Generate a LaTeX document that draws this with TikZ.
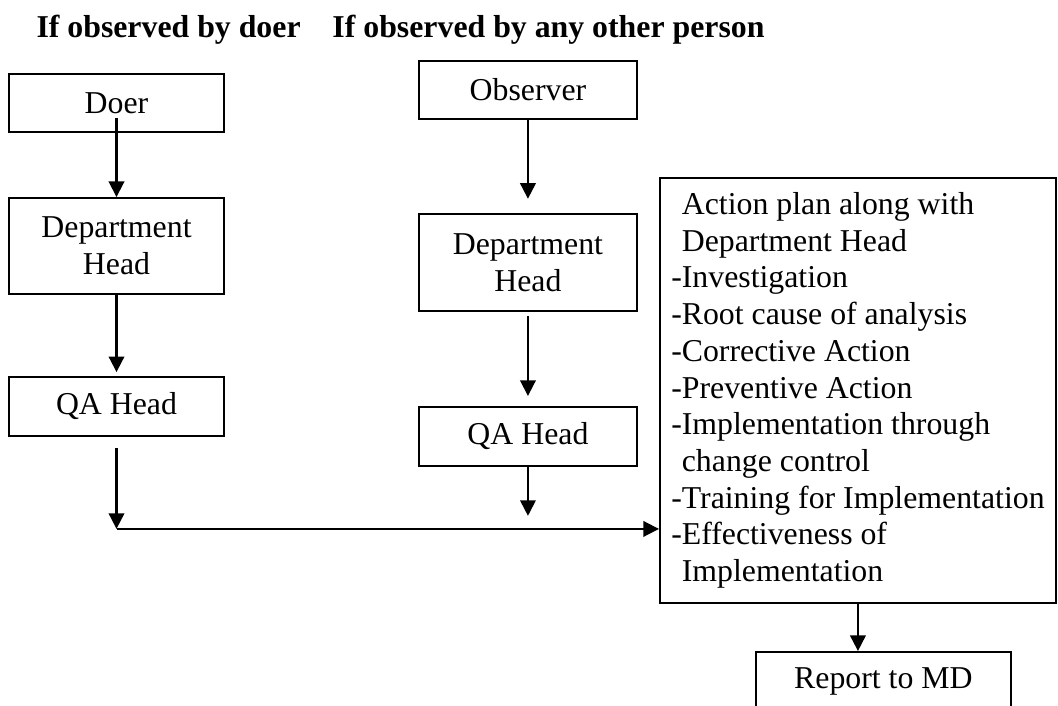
\documentclass[tikz,border=0pt]{standalone}
\usepackage{fontspec}
\setmainfont{Liberation Serif}
\usepackage{tikz}
\usetikzlibrary{arrows.meta, positioning, calc}
\tikzset{
  flowbox/.style={rectangle, draw=black, line width=0.75pt, align=center,
    inner sep=2pt, font=\fontsize{12}{13.85}\selectfont},
  leftbox/.style={flowbox, minimum width=2.85cm},
  midbox/.style={flowbox, minimum width=2.89cm},
  heading/.style={anchor=base west, inner sep=0pt,
    font=\fontsize{12}{13.85}\selectfont\bfseries},
  arrow/.style={-{Triangle[width=5.8pt,length=5.9pt]}, line width=0.95pt}
}

\begin{document}
\begin{tikzpicture}
  \clip (0,0) rectangle (14.03,9.362);

  % Headings
  \node[heading] (hdoer) at (0.477,8.858) {If observed by doer};
  \node[heading] (hother) at (4.402,8.858) {If observed by any other person};

  % Observed by doer
  \node[leftbox, minimum height=0.77cm] (doer) at (1.545,7.996) {Doer};
  \node[leftbox, minimum height=1.27cm] (depdoer) at (1.545,6.100) {Department\\Head};
  \node[leftbox, minimum height=0.78cm] (qadoer) at (1.545,3.971) {QA Head};

  % Observed by any other person
  \node[midbox, minimum height=0.77cm] (observer) at (7.001,8.168) {Observer};
  \node[midbox, minimum height=1.29cm] (depobs) at (7.001,5.881) {Department\\Head};
  \node[midbox, minimum height=0.78cm] (qaobs) at (7.001,3.574) {QA Head};

  % Action plan and report
  \node[flowbox, align=left, minimum width=5.25cm, minimum height=5.64cm] (plan) at (11.377,4.184)
    {\phantom{-}Action plan along with\\
     \phantom{-}Department Head\\
     -Investigation\\
     -Root cause of analysis\\
     -Corrective Action\\
     -Preventive Action\\
     -Implementation through\\
     \phantom{-}change control\\
     -Training for Implementation\\
     -Effectiveness of\\
     \phantom{-}Implementation};
  \node[flowbox, minimum width=3.38cm, minimum height=0.78cm] (report) at (11.715,0.325) {Report to MD};

  % Connectors
  \draw[arrow] ($(doer.center)+(0,-0.2)$) -- (depdoer.north);
  \draw[arrow, shorten >=1.5pt] (depdoer.south) -- (qadoer.north);
  \coordinate (join) at ($(qadoer.south)+(0,-1.22)$);
  \draw[arrow] ($(qadoer.south)+(0,-0.146)$) -- (join);
  \draw[arrow] (join) -- (join -| plan.west);

  \draw[arrow, shorten >=5.3pt] (observer.south) -- (depobs.north);
  \draw[arrow, shorten >=3.8pt] ($(depobs.south)+(0,-0.05)$) -- (qaobs.north);
  \coordinate (qaend) at ($(qaobs.south)+(0,-0.65)$);
  \draw[arrow] (qaobs.south) -- (qaend);

  \draw[arrow] (plan.south) -- (plan.south |- report.north);
\end{tikzpicture}
\end{document}
